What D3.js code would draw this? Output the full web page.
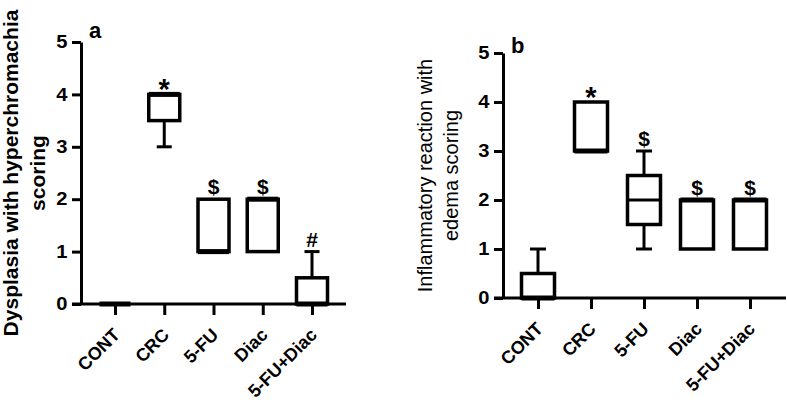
<!DOCTYPE html>
<html>
<head>
<meta charset="utf-8">
<script src="https://cdn.jsdelivr.net/npm/d3@7"></script>
<style>
  body { margin: 0; background: #fff; }
  text { font-family: Arial, "Liberation Sans", sans-serif; fill: #000; }
</style>
</head>
<body>
<svg id="chart" width="787" height="402"></svg>
<script>
// groups on the x axis
const categories = ["CONT", "CRC", "5-FU", "Diac", "5-FU+Diac"];
const yTicks = [0, 1, 2, 3, 4, 5];

// panel a: dysplasia with hyperchromachia scoring (box stats)
const dysMin = [0, 3, 1, 1, 0];
const dysQ1 = [0, 3.5, 1, 1, 0];
const dysMedian = [0, 4, 1, 2, 0];
const dysQ3 = [0, 4, 2, 2, 0.5];
const dysMax = [0, 4, 2, 2, 1];
const dysMarks = ["", "*", "$", "$", "#"];

// panel b: inflammatory reaction with edema scoring
const infMin = [0, 3, 1, 1, 1];
const infQ1 = [0, 3, 1.5, 1, 1];
const infMedian = [0, 3, 2, 2, 2];
const infQ3 = [0.5, 4, 2.5, 2, 2];
const infMax = [1, 4, 3, 2, 2];
const infMarks = ["", "*", "$", "$", "$"];

const svg = d3.select("#chart");

function drawPanel(opt) {
  const g = svg.append("g");
  const y = d3.scaleLinear().domain([0, 5]).range([opt.y0, opt.y1]);
  const x = d3.scalePoint().domain(categories).range([opt.xFirst, opt.xLast]);

  const rows = categories.map((c, i) => ({
    cat: c, min: opt.min[i], q1: opt.q1[i], med: opt.median[i],
    q3: opt.q3[i], max: opt.max[i], mark: opt.marks[i]
  }));

  // y axis (labels a bit wide, like the original export)
  const yAxis = g.append("g")
    .attr("transform", "translate(" + opt.axisX + ",0)")
    .call(d3.axisLeft(y).tickValues(yTicks).tickFormat(d3.format("d"))
      .tickSize(9).tickSizeOuter(0).tickPadding(3));
  yAxis.selectAll("path, line").attr("stroke", "#000").attr("stroke-width", 3);
  yAxis.selectAll("text").attr("font-size", 18).attr("font-weight", "bold")
    .attr("transform", "scale(1.12,1)")
    .style("font-family", "Arial, 'Liberation Sans', sans-serif");

  // x axis: ticks only, then the baseline drawn across
  const xAxis = g.append("g")
    .attr("transform", "translate(0," + opt.y0 + ")")
    .call(d3.axisBottom(x).tickSize(11).tickSizeOuter(0).tickFormat(""));
  xAxis.select(".domain").remove();
  xAxis.selectAll("line").attr("stroke", "#000").attr("stroke-width", 3);
  g.append("line")
    .attr("x1", opt.axisX - 9).attr("x2", opt.axisEnd)
    .attr("y1", opt.y0).attr("y2", opt.y0)
    .attr("stroke", "#000").attr("stroke-width", 3);

  // rotated category labels
  g.selectAll(".xlab").data(categories).enter().append("text")
    .attr("class", "xlab")
    .attr("transform", d => "translate(" + (x(d) + 6) + "," + (opt.y0 + opt.labelDy) + ") rotate(-45)")
    .attr("text-anchor", "end")
    .attr("font-size", 18).attr("font-weight", "bold")
    .text(d => d);

  const hw = opt.boxW / 2, cw = opt.capW / 2;
  const box = g.selectAll(".box").data(rows).enter().append("g").attr("class", "box");

  // whiskers
  box.append("line")
    .attr("x1", d => x(d.cat)).attr("x2", d => x(d.cat))
    .attr("y1", d => y(d.q3)).attr("y2", d => y(d.max))
    .attr("stroke", "#000").attr("stroke-width", 3);
  box.append("line")
    .attr("x1", d => x(d.cat)).attr("x2", d => x(d.cat))
    .attr("y1", d => y(d.q1)).attr("y2", d => y(d.min))
    .attr("stroke", "#000").attr("stroke-width", 3);
  box.filter(d => d.max > d.q3).append("line")
    .attr("x1", d => x(d.cat) - cw).attr("x2", d => x(d.cat) + cw)
    .attr("y1", d => y(d.max)).attr("y2", d => y(d.max))
    .attr("stroke", "#000").attr("stroke-width", 3);
  box.filter(d => d.min < d.q1).append("line")
    .attr("x1", d => x(d.cat) - cw).attr("x2", d => x(d.cat) + cw)
    .attr("y1", d => y(d.min)).attr("y2", d => y(d.min))
    .attr("stroke", "#000").attr("stroke-width", 3);

  // box
  box.append("rect")
    .attr("x", d => x(d.cat) - hw).attr("width", opt.boxW)
    .attr("y", d => y(d.q3)).attr("height", d => y(d.q1) - y(d.q3))
    .attr("fill", "#fff").attr("stroke", "#000").attr("stroke-width", 3.5);

  // median
  box.append("line")
    .attr("x1", d => x(d.cat) - hw).attr("x2", d => x(d.cat) + hw)
    .attr("y1", d => y(d.med)).attr("y2", d => y(d.med))
    .attr("stroke", "#000").attr("stroke-width", d => (d.med === d.q1 || d.med === d.q3) ? 5 : 3);

  // significance marks (the asterisk glyph sits high, so it is larger and lower)
  box.append("text")
    .attr("x", d => x(d.cat))
    .attr("y", d => d.mark === "*" ? y(d.max) + 5 : y(d.max) - 5)
    .attr("text-anchor", "middle")
    .attr("font-size", d => d.mark === "*" ? 29 : 21).attr("font-weight", "bold")
    .text(d => d.mark);

  // panel letter
  g.append("text")
    .attr("x", opt.axisX + 8).attr("y", opt.letterY)
    .attr("font-size", 22).attr("font-weight", "bold")
    .text(opt.letter);

  // y title, two lines
  const cy = (opt.y0 + opt.y1) / 2;
  opt.title.forEach((t, i) => {
    g.append("text")
      .attr("transform", "translate(" + opt.titleX[i] + "," + cy + ") rotate(-90)")
      .attr("text-anchor", "middle")
      .attr("font-size", opt.titleSize).attr("font-weight", opt.titleWeight)
      .text(t);
  });
}

drawPanel({
  min: dysMin, q1: dysQ1, median: dysMedian, q3: dysQ3, max: dysMax, marks: dysMarks,
  axisX: 81, axisEnd: 346, y0: 304, y1: 42, xFirst: 115, xLast: 312,
  boxW: 31, capW: 15, letter: "a", letterY: 38, labelDy: 32,
  title: ["Dysplasia with hyperchromachia", "scoring"], titleX: [18, 45],
  titleSize: 21, titleWeight: "bold"
});

drawPanel({
  min: infMin, q1: infQ1, median: infMedian, q3: infQ3, max: infMax, marks: infMarks,
  axisX: 503, axisEnd: 786, y0: 298, y1: 53, xFirst: 538, xLast: 750,
  boxW: 33, capW: 16, letter: "b", letterY: 53, labelDy: 32,
  title: ["Inflammatory reaction with", "edema scoring"], titleX: [432, 458],
  titleSize: 20, titleWeight: "normal"
});
</script>
</body>
</html>
